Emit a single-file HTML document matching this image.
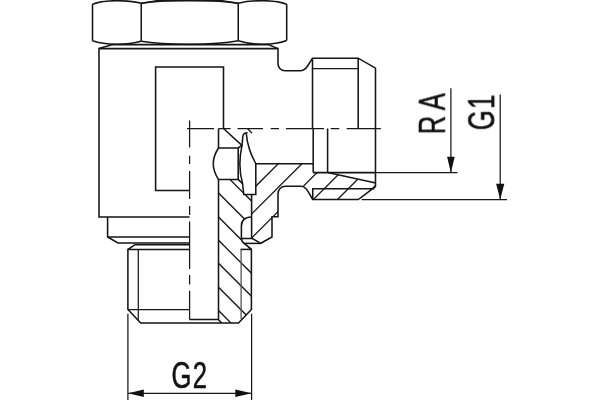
<!DOCTYPE html>
<html>
<head>
<meta charset="utf-8">
<title>Banjo fitting drawing</title>
<style>
  html, body { margin: 0; padding: 0; background: #ffffff; }
  body { width: 600px; height: 400px; overflow: hidden; font-family: "Liberation Sans", sans-serif; }
  svg { display: block; }
  .k { fill: none; stroke: #151515; stroke-width: 1.55; stroke-linecap: butt; stroke-linejoin: miter; }
  .t { fill: none; stroke: #181818; stroke-width: 1.25; }
  .h { fill: none; stroke: #151515; stroke-width: 1.3; }
  .a { fill: #111; stroke: none; }
  text { font-family: "Liberation Sans", sans-serif; fill: #111; stroke: #111; stroke-width: 0.55; }
</style>
</head>
<body>
<svg width="600" height="400" viewBox="0 0 600 400">
  <rect x="0" y="0" width="600" height="400" fill="#ffffff"/>
  <defs>
    <filter id="gs" x="-10%" y="-10%" width="120%" height="120%"><feOffset dx="0" dy="0"/></filter>
    <clipPath id="cpA">
      <path d="M255.8,163.7 H313.2 V172.5 H327.6 L375.75,182.9 V186.4 L358.25,199.5 H312.75 C309,194 307,186.3 301,186.3 H285.2 A7.2,7.4 0 0 0 278,193.7 V216.7 H272 V237 L260.75,243.3 L251.6,238 V194.5 H255.8 Z"/>
    </clipPath>
    <clipPath id="cpB">
      <path d="M218.5,179.4 H238.2 L242.6,183.8 L243.8,194.5 H251.6 V216.9 Q241.4,217 241.4,226 V238.4 Q241.7,241.9 244.2,243.5 L251.6,249.4 V309.5 L238.5,323 H221.7 L218.3,319.5 Z"/>
    </clipPath>
  </defs>

  <!-- hatching -->
  <g class="h" clip-path="url(#cpA)">
    <path d="M242,200 L292,150"/>
    <path d="M215.7,250 L315.7,150"/>
    <path d="M239.6,250 L339.6,150"/>
    <path d="M262.9,250 L362.9,150"/>
    <path d="M287,250 L387,150"/>
    <path d="M311,250 L411,150"/>
  </g>
  <g class="h" clip-path="url(#cpB)">
    <path d="M210,159.5 L270,219.5"/>
    <path d="M210,184.5 L270,244.5"/>
    <path d="M210,208.5 L270,268.5"/>
    <path d="M210,231.75 L270,291.75"/>
    <path d="M210,254.75 L270,314.75"/>
    <path d="M210,278.75 L270,338.75"/>
    <path d="M210,302 L270,362"/>
  </g>

  <!-- hex nut -->
  <g class="k">
    <path d="M92.5,4.2 V40.8"/>
    <path d="M92.5,4.2 C100,1.4 108,0.7 116.9,0.7 S133.5,1.3 141.25,3.3"/>
    <path d="M92.5,40.8 C100,43.5 108,44.2 116.9,44.2 S133.5,43.3 141.25,41.2"/>
    <path d="M141.25,3.3 V41.2"/>
    <path d="M238.25,3.3 V40.8"/>
    <path d="M141.25,3.3 C157,0.9 173,0.3 189.7,0.3 S222,0.9 238.25,3.3"/>
    <path d="M141.25,41.2 C155,43.6 168,44.2 189.7,44.2 S224,43.6 238.25,40.8"/>
    <path d="M238.25,3.3 C246,1.3 254,0.7 262.5,0.7 S279,1.4 286.7,4.2"/>
    <path d="M238.25,40.8 C246,43.3 254,44.2 262.5,44.2 S279,43.5 286.7,40.5"/>
    <path d="M286.7,4.2 V40.5"/>
    <path d="M141.25,3.3 L158,0.6 H221 L238.25,3.3"/>
    <path d="M99,48.6 L112.75,44.6 H268.25 L278,48.6"/>
  </g>

  <!-- body -->
  <g class="k">
    <path d="M189.5,217 H99 V48.6 H278 V63.8 A7,7 0 0 0 285,70.8 H300 Q304.6,70.8 307.6,66 L312.5,58.2 H358.2 L375.5,68.2 V186.4"/>
    <path d="M312.5,58.2 V128.5"/>
    <path d="M358.2,58.2 V128.5"/>
    <path d="M313.2,128.5 V172.5"/>
    <path d="M327.6,128.5 V172.5"/>
    <!-- inner rectangle -->
    <path d="M189.5,190.5 H155.6 V67 H223.5 V128.5"/>
    <!-- step + thread, left exterior half -->
    <path d="M107.6,217 V237 L118,243 H189.5"/>
    <path d="M107.6,237 H189.5"/>
    <path d="M189.5,244.7 H135 L127.9,249.5 V309.5 L140.75,323 H238.5 L251.4,309.5 V249.3"/>
    <path d="M127.9,249.5 H189.5"/>
    <path d="M127.9,309.7 H189.5" stroke-width="1.3"/>
    <path d="M189.5,319.5 H218.3 L221.7,323"/>
    <!-- section -->
    <path d="M218.5,128.5 V148 H238.2 V179.4 H218.5"/>
    <path d="M218.5,148 Q208.1,163.7 218.5,179.4"/>
    <path d="M218.5,179.4 V319.5"/>
    <path d="M223.5,128.5 L241.9,145.4 L238.2,148"/>
    <path d="M238.2,179.4 L242.6,183.8"/>
    <!-- flap -->
    <path d="M247.6,132.8 Q243.3,132.5 242.8,136.6 L242,145.3 C239.2,158 239.2,172 242.6,183.8 L243.8,194.5 H255.8 V163.7 C251,155 247,143 246.25,133.4"/>
    <path d="M255.8,163.7 H313.2"/>
    <path d="M313.2,172.6 H376"/>
    <path d="M327.6,172.5 L375.75,182.9"/>
    <path d="M375.75,186.4 L358.25,199.5 H312.75 V188.65 H374.5"/>
    <path d="M312.75,199.5 C309,194 307,186.3 301,186.3 H285.2 A7.2,7.4 0 0 0 278,193.7 V216.7 H272 V237 L260.75,243.3 L251.6,238"/>
    <path d="M251.6,194.5 V238.4 H241.4"/>
    <path d="M251.6,216.9 Q241.4,217 241.4,226 V238.4 Q241.7,241.9 244.2,243.5 L251.6,249.4"/>
    <path d="M244.2,243.4 H260.75"/>
    <path d="M240.5,249.4 H251.6"/>
  </g>
  <g class="t">
    <path d="M241.1,249.4 V319" stroke="#555" stroke-width="1.3"/>
    <path d="M138.3,249.5 V319.8"/>
    <path d="M247.5,128.5 L252,133.3"/>
    <path d="M312.5,68.5 H358.2"/>
  </g>

  <!-- centre lines -->
  <g class="t">
    <path d="M187,128.6 H214 M218.7,128.6 H230.6 M237.5,128.6 H263 M270.7,128.6 H279 M286,128.6 H324 M330.7,128.6 H339.3 M346.7,128.6 H380.8"/>
    <path d="M189.6,120.5 V147.5 M189.6,155.7 V164 M189.6,171 V199 M189.6,206 V215 M189.6,221.5 V269 M189.6,275 V284.5 M189.6,290.7 V319.5"/>
  </g>

  <!-- dimensions -->
  <g class="t">
    <path d="M127.9,313.7 V400"/>
    <path d="M251.6,313.7 V400"/>
    <path d="M128,393.3 H251.6"/>
    <path d="M376,172.6 H457.5"/>
    <path d="M361.7,199.5 H507"/>
    <path d="M450.9,88.2 V172"/>
    <path d="M500.2,94.4 V199"/>
  </g>
  <path class="a" d="M128,393.3 L143.8,389.5 V397.1 Z"/>
  <path class="a" d="M251.7,393.3 L235.3,389.5 V397.1 Z"/>
  <path class="a" d="M450.9,172.7 L447.1,156.8 H454.7 Z"/>
  <path class="a" d="M500.2,199.4 L496.1,183.7 H504.3 Z"/>

  <text transform="translate(171.5,387.6) scale(0.68,1)" filter="url(#gs)" font-size="37.7" letter-spacing="2">G2</text>
  <text transform="translate(444.9,134.3) rotate(-90) scale(0.68,1)" filter="url(#gs)" font-size="37.7" letter-spacing="8">RA</text>
  <text transform="translate(494.2,130.2) rotate(-90) scale(0.68,1)" filter="url(#gs)" font-size="37.7" letter-spacing="2">G1</text>
</svg>
</body>
</html>
